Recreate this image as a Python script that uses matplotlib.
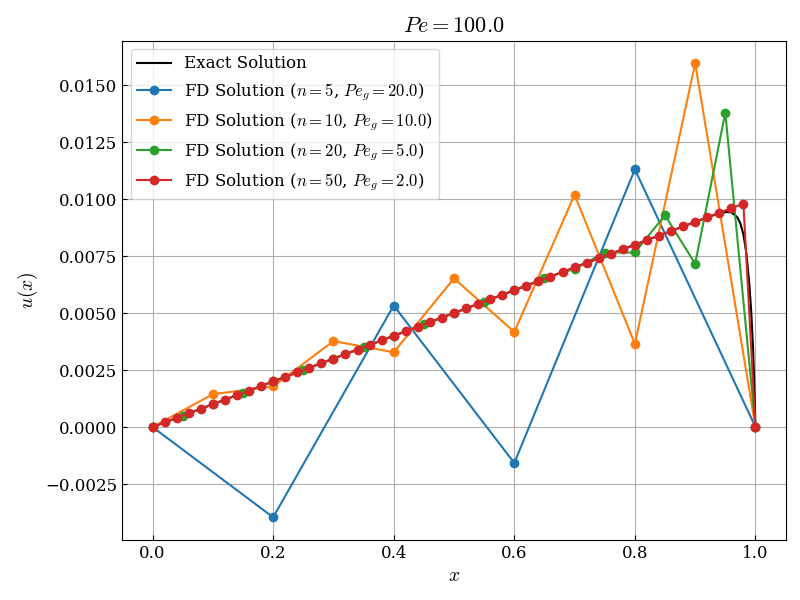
import matplotlib
matplotlib.use('Agg')
import matplotlib.pyplot as plt

plt.rcParams['font.family'] = 'DejaVu Serif'
plt.rcParams['mathtext.fontset'] = 'cm'
plt.rcParams['font.size'] = 12

Pe = 100.0

# exact solution (dense near x = 1)
x_exact = [0.0, 0.5, 0.9, 0.93, 0.95, 0.96, 0.97, 0.975, 0.98, 0.985,
           0.99, 0.993, 0.996, 0.998, 1.0]
u_exact = [0.0, 0.005, 0.0090, 0.00929, 0.00943, 0.00942, 0.00920, 0.00893,
           0.00845, 0.00762, 0.00622, 0.00505, 0.00346, 0.00189, 0.0]

# FD solutions
n_list = [5, 10, 20, 50]

u_n5 = [0.0, -0.00396, 0.00533, -0.00158, 0.01130, 0.0]

u_n10 = [0.0, 0.00144, 0.00178, 0.00377, 0.00328, 0.00652, 0.00417,
         0.01019, 0.00365, 0.01596, 0.0]

u_n20 = [0.0, 0.0005, 0.0010, 0.0015, 0.0020, 0.0025, 0.0030, 0.0035,
         0.0040, 0.0045, 0.0050, 0.0055, 0.0060, 0.00653, 0.00694,
         0.00765, 0.00766, 0.00929, 0.00716, 0.01379, 0.0]

u_n50 = [0.0, 0.0002, 0.0004, 0.0006, 0.0008, 0.0010, 0.0012, 0.0014,
         0.0016, 0.0018, 0.0020, 0.0022, 0.0024, 0.0026, 0.0028, 0.0030,
         0.0032, 0.0034, 0.0036, 0.0038, 0.0040, 0.0042, 0.0044, 0.0046,
         0.0048, 0.0050, 0.0052, 0.0054, 0.0056, 0.0058, 0.0060, 0.0062,
         0.0064, 0.0066, 0.0068, 0.0070, 0.0072, 0.0074, 0.0076, 0.0078,
         0.0080, 0.0082, 0.0084, 0.0086, 0.0088, 0.0090, 0.0092, 0.0094,
         0.0096, 0.0098, 0.0]

fd_values = [u_n5, u_n10, u_n20, u_n50]

fig, ax = plt.subplots(figsize=(8, 6), dpi=100)

ax.plot(x_exact, u_exact, color='black', label='Exact Solution')

for n, u in zip(n_list, fd_values):
    xs = [i / n for i in range(n + 1)]
    peg = Pe / n
    ax.plot(xs, u, marker='o', label=r'FD Solution ($n=%d$, $Pe_g=%.1f$)' % (n, peg))

ax.set_title(r'$Pe=%.1f$' % Pe, fontsize=16)
ax.set_xlabel(r'$x$', fontsize=14)
ax.set_ylabel(r'$u(x)$', fontsize=14)
ax.grid(True)
ax.tick_params(direction='in')
ax.legend(loc='upper left')

fig.subplots_adjust(left=0.153, right=0.982, top=0.9325, bottom=0.1)
fig.savefig('out.png')
